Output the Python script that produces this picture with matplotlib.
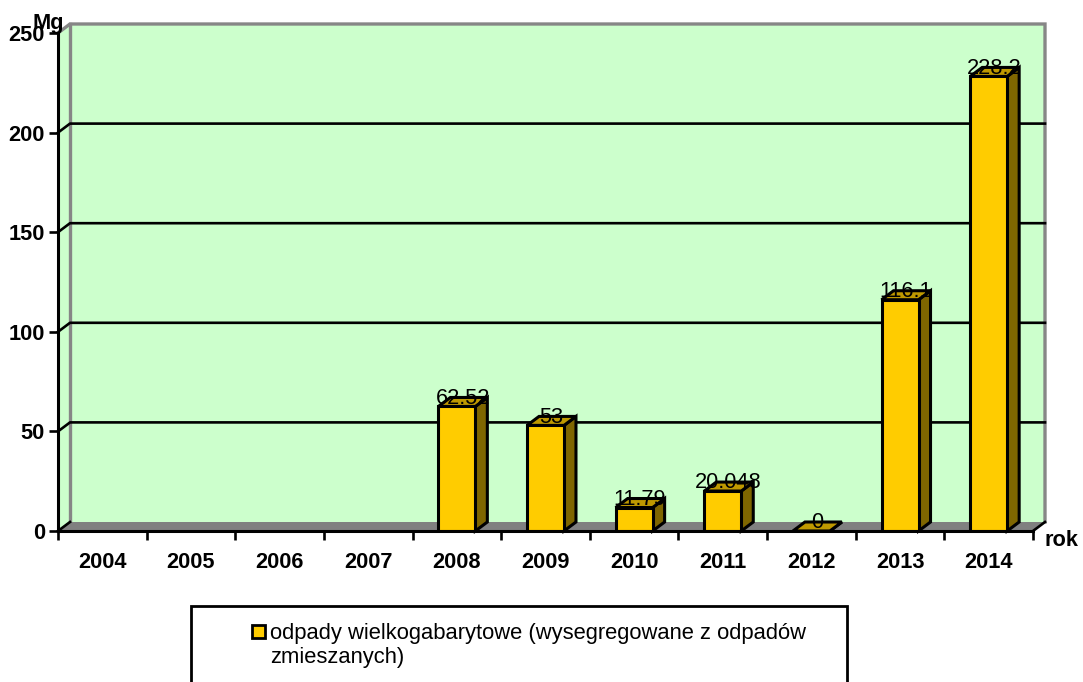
import matplotlib
matplotlib.use('Agg')
import matplotlib.pyplot as plt
from matplotlib.patches import Polygon, Rectangle

plt.rcParams['font.family'] = ['Liberation Sans', 'DejaVu Sans']

years = ['2004', '2005', '2006', '2007', '2008', '2009', '2010', '2011', '2012', '2013', '2014']
bar_pos = [4, 5, 6, 7, 8, 9, 10]
values = [62.52, 53, 11.79, 20.048, 0, 116.1, 228.2]
y_ticks = [0, 50, 100, 150, 200, 250]
legend_text = 'odpady wielkogabarytowe (wysegregowane z odpadów\nzmieszanych)'

W, H = 1083, 682
fs = 15.7
fig = plt.figure(figsize=(W / 100, H / 100), dpi=100)
ax = fig.add_axes([58 / W, (H - 531) / H, 975 / W, 498 / H])
ax.set_xlim(-0.5, 10.5)
ax.set_ylim(0, 250)
ax.patch.set_visible(False)

# depth of the fake 3d box, 12px right and 9px up
dx = 12 / (975 / 11)
dy = 9 / (498 / 250)
bw = 0.417

green = '#CCFFCC'
wall_edge = '#868686'

# side wall and back wall
ax.add_patch(Polygon([(-0.5, 0), (-0.5 + dx, dy), (-0.5 + dx, 250 + dy), (-0.5, 250)],
                     fc=green, ec='none', clip_on=False, zorder=0.5))
ax.add_patch(Rectangle((-0.5 + dx, dy), 11, 250, fc=green, ec='none', clip_on=False, zorder=0.6))
ax.plot([-0.5, -0.5 + dx, 10.5 + dx, 10.5 + dx], [250, 250 + dy, 250 + dy, dy],
        color=wall_edge, lw=2.4, clip_on=False, zorder=1, solid_joinstyle='miter')
ax.plot([-0.5 + dx, -0.5 + dx], [dy, 250 + dy], color=wall_edge, lw=2.4, clip_on=False, zorder=1)

# gridlines run over side wall then along the back
for t in y_ticks[1:-1]:
    ax.plot([-0.5, -0.5 + dx, 10.5 + dx], [t, t + dy, t + dy], color='black', lw=1.9,
            clip_on=False, zorder=1.5)

# floor
ax.add_patch(Polygon([(-0.5, 0), (-0.5 + dx, dy), (10.5 + dx, dy), (10.5, 0)],
                     fc='#808080', ec='none', clip_on=False, zorder=1.8))
ax.plot([-0.5, -0.5 + dx], [0, dy], color='black', lw=1.9, clip_on=False, zorder=1.9)
ax.plot([10.5, 10.5 + dx], [0, dy], color='black', lw=1.9, clip_on=False, zorder=1.9)

ax.bar(bar_pos, values, width=bw, color='#FFCC00', edgecolor='black', linewidth=2.2, zorder=4)

for x, v in zip(bar_pos, values):
    l, r = x - bw / 2, x + bw / 2
    ax.add_patch(Polygon([(r, 0), (r + dx, dy), (r + dx, v + dy), (r, v)],
                         fc='#7F6600', ec='black', lw=2.2, joinstyle='miter', clip_on=False, zorder=3))
    ax.add_patch(Polygon([(l, v), (l + dx, v + dy), (r + dx, v + dy), (r, v)],
                         fc='#BF9900', ec='black', lw=2.2, joinstyle='miter', clip_on=False, zorder=3))
    ax.annotate('%g' % v, (x, v), xytext=(4.3, 5.9), textcoords='offset points', ha='center',
                va='center', fontsize=fs, color='black', zorder=6, annotation_clip=False)

for name in ['top', 'right']:
    ax.spines[name].set_visible(False)
for name in ['left', 'bottom']:
    ax.spines[name].set_linewidth(2.2)
    ax.spines[name].set_zorder(5)

ax.set_yticks(y_ticks)
ax.set_xticks([i - 0.5 for i in range(12)])
ax.set_xticklabels([])
ax.set_xticks(range(11), years, minor=True)
ax.tick_params(axis='x', which='major', length=6.5, width=1.9, direction='out')
ax.tick_params(axis='x', which='minor', length=0, pad=15)
ax.tick_params(axis='y', length=6.5, width=1.9, direction='out', pad=3)
for lab in ax.get_yticklabels() + ax.get_xticklabels(minor=True):
    lab.set_fontsize(fs)
    lab.set_fontweight('bold')

fig.text(48 / W, (H - 24) / H, 'Mg', fontsize=fs, fontweight='bold', ha='center', va='center')
fig.text(1062 / W, (H - 540) / H, 'rok', fontsize=fs, fontweight='bold', ha='center', va='center')

# legend box runs off the bottom of the image
fig.add_artist(Rectangle((190.5 / W, -20 / H), 656 / W, (H - 606 + 20) / H, fc='white', ec='black',
                         lw=2, transform=fig.transFigure))
fig.add_artist(Rectangle((252 / W, (H - 638) / H), 13 / W, 13 / H, fc='#FFCC00', ec='black',
                         lw=2, transform=fig.transFigure))
fig.text(270 / W, (H - 645.5) / H, legend_text, fontsize=15.8, ha='left', va='center', linespacing=1.25)

fig.savefig('out.png', dpi=100)
